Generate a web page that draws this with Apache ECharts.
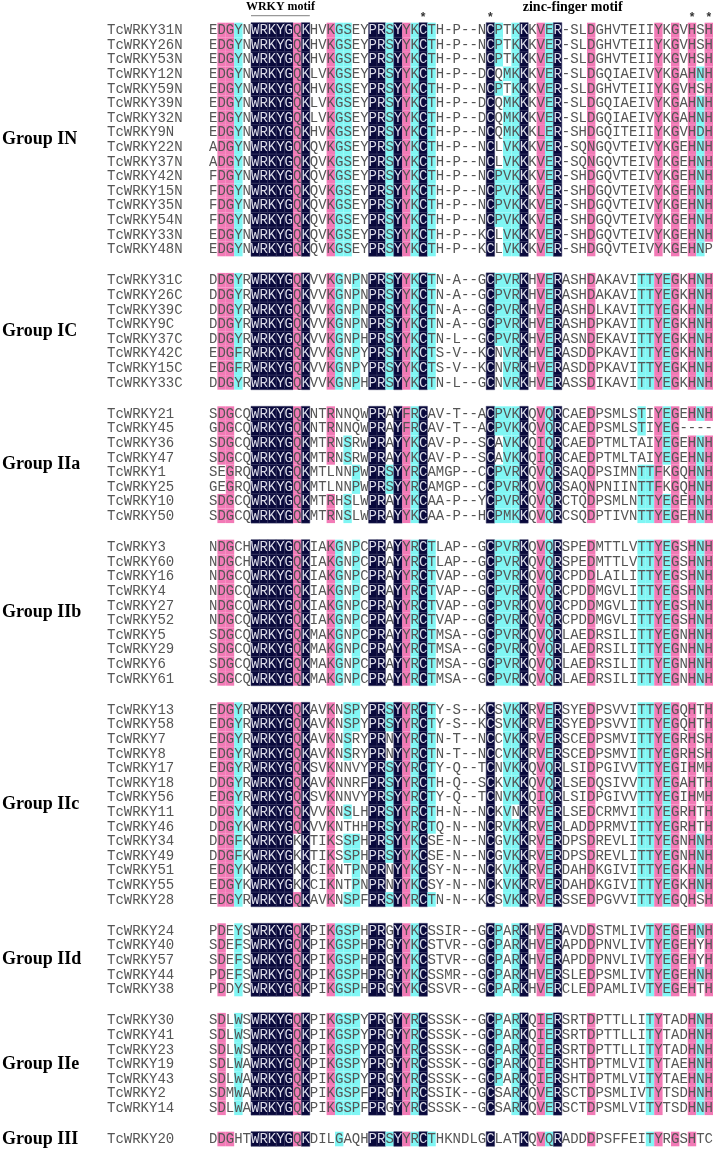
<!DOCTYPE html>
<html><head><meta charset="utf-8">
<script src="https://cdn.jsdelivr.net/npm/echarts@6/dist/echarts.min.js"></script>
<style>html,body{margin:0;padding:0;background:#fff}#c{width:716px;height:1149px}</style>
</head><body><div id="c"></div>
<script>
// ---------------- data ----------------
const groups = ['Group IN','Group IC','Group IIa','Group IIb','Group IIc','Group IId','Group IIe','Group III'];
const groupSizes = [16, 8, 8, 10, 14, 5, 7, 1];
const names = [
 'TcWRKY31N','TcWRKY26N','TcWRKY53N','TcWRKY12N','TcWRKY59N','TcWRKY39N','TcWRKY32N','TcWRKY9N',
 'TcWRKY22N','TcWRKY37N','TcWRKY42N','TcWRKY15N','TcWRKY35N','TcWRKY54N','TcWRKY33N','TcWRKY48N',
 'TcWRKY31C','TcWRKY26C','TcWRKY39C','TcWRKY9C','TcWRKY37C','TcWRKY42C','TcWRKY15C','TcWRKY33C',
 'TcWRKY21','TcWRKY45','TcWRKY36','TcWRKY47','TcWRKY1','TcWRKY25','TcWRKY10','TcWRKY50',
 'TcWRKY3','TcWRKY60','TcWRKY16','TcWRKY4','TcWRKY27','TcWRKY52','TcWRKY5','TcWRKY29','TcWRKY6','TcWRKY61',
 'TcWRKY13','TcWRKY58','TcWRKY7','TcWRKY8','TcWRKY17','TcWRKY18','TcWRKY56','TcWRKY11','TcWRKY46',
 'TcWRKY34','TcWRKY49','TcWRKY51','TcWRKY55','TcWRKY28',
 'TcWRKY24','TcWRKY40','TcWRKY57','TcWRKY44','TcWRKY38',
 'TcWRKY30','TcWRKY41','TcWRKY23','TcWRKY19','TcWRKY43','TcWRKY2','TcWRKY14',
 'TcWRKY20'
];
const sequences = [
 'EDGYNWRKYGQKHVKGSEYPRSYYKCTH-P--NCPTKKKVER-SLDGHVTEIIYKGVHSH',
 'EDGYNWRKYGQKHVKGSEYPRSYYKCTH-P--NCPTKKKVER-SLDGHVTEIIYKGVHSH',
 'EDGYNWRKYGQKHVKGSEYPRSYYKCTH-P--NCPTKKKVER-SLDGHVTEIIYKGVHSH',
 'EDGYNWRKYGQKLVKGSEYPRSYYKCTH-P--DCQMKKKVER-SLDGQIAEIVYKGAHNH',
 'EDGYNWRKYGQKHVKGSEYPRSYYKCTH-P--NCPTKKKVER-SLDGHVTEIIYKGVHSH',
 'EDGYNWRKYGQKLVKGSEYPRSYYKCTH-P--DCQMKKKVER-SLDGQIAEIVYKGAHNH',
 'EDGYNWRKYGQKLVKGSEYPRSYYKCTH-P--DCQMKKKVER-SLDGQIAEIVYKGAHNH',
 'EDGYNWRKYGQKHVKGSEYPRSYYKCTH-P--NCQMKKKLER-SHDGQITEIIYKGVHDH',
 'ADGYNWRKYGQKQVKGSEYPRSYYKCTH-P--NCLVKKKVER-SQNGQVTEIVYKGEHNH',
 'ADGYNWRKYGQKQVKGSEYPRSYYKCTH-P--NCLVKKKVER-SQNGQVTEIVYKGEHNH',
 'FDGYNWRKYGQKQVKGSEYPRSYYKCTH-P--NCPVKKKVER-SHDGQVTEIVYKGEHNH',
 'FDGYNWRKYGQKQVKGSEYPRSYYKCTH-P--NCPVKKKVER-SHDGQVTEIVYKGEHNH',
 'FDGYNWRKYGQKQVKGSEYPRSYYKCTH-P--NCPVKKKVER-SHDGQVTEIVYKGEHNH',
 'FDGYNWRKYGQKQVKGSEYPRSYYKCTH-P--NCPVKKKVER-SHDGQVTEIVYKGEHNH',
 'EDGYNWRKYGQKQVKGSEYPRSYYKCTH-P--KCLVKKKVER-SHDGQVTEIVYKGEHNH',
 'EDGYNWRKYGQKQVKGSEYPRSYYKCTH-P--KCLVKKKVER-SHDGQVTEIVYKGEHNP',
 'DDGYRWRKYGQKVVKGNPNPRSYYKCTN-A--GCPVRKHVERASHDAKAVITTYEGKHNH',
 'DDGYRWRKYGQKVVKGNPNPRSYYKCTN-A--GCPVRKHVERASHDAKAVITTYEGKHNH',
 'DDGYRWRKYGQKVVKGNPNPRSYYKCTN-A--GCPVRKHVERASHDLKAVITTYEGKHNH',
 'DDGYRWRKYGQKVVKGNPNPRSYYKCTN-A--GCPVRKHVERASHDPKAVITTYEGKHNH',
 'DDGYRWRKYGQKVVKGNPHPRSYYKCTN-L--GCPVRKHVERASNDEKAVITTYEGKHNH',
 'EDGFRWRKYGQKVVKGNPYPRSYYKCTS-V--KCNVRKHVERASDDPKAVITTYEGKHNH',
 'EDGFRWRKYGQKVVKGNPYPRSYYKCTS-V--KCNVRKHVERASDDPKAVITTYEGKHNH',
 'DDGYRWRKYGQKVVKGNPHPRSYYKCTN-L--GCNVRKHVERASSDIKAVITTYEGKHNH',
 'SDGCQWRKYGQKNTRNNQWPRAYFRCAV-T--ACPVKKQVQRCAEDPSMLSTIYEGEHNH',
 'GDGCQWRKYGQKNTRNNQWPRAYFRCAV-T--ACPVKKQVQRCAEDPSMLSTIYEG----',
 'SDGCQWRKYGQKMTRNSRWPRAYYKCAV-P--SCAVKKQIQRCAEDPTMLTAIYEGEHNH',
 'SDGCQWRKYGQKMTRNSRWPRAYYKCAV-P--SCAVKKQIQRCAEDPTMLTAIYEGEHNH',
 'SEGRQWRKYGQKMTLNNPWPRSYYRCAMGP--CCPVRKQVQRSAQDPSIMNTTFKGQHNH',
 'GEGRQWRKYGQKMTLNNPWPRSYYRCAMGP--CCPVRKQVQRSAQNPNIINTTFKGQHNH',
 'SDGCQWRKYGQKMTRHSLWPRAYYKCAA-P--YCPVRKQVQRCTQDPSMLNTTYEGEHNH',
 'SDGCQWRKYGQKMTRNSLWPRAYYKCAA-P--HCPMKKQVQRCSQDPTIVNTTYEGEHNH',
 'NDGCHWRKYGQKIAKGNPCPRAYYRCTLAP--GCPVRKQVQRSPEDMTTLVTTYEGSHNH',
 'NDGCHWRKYGQKIAKGNPCPRAYYRCTLAP--GCPVRKQVQRSPEDMTTLVTTYEGSHNH',
 'NDGCQWRKYGQKIAKGNPCPRAYYRCTVAP--GCPVRKQVQRCPDDLAILITTYEGSHNH',
 'NDGCQWRKYGQKIAKGNPCPRAYYRCTVAP--GCPVRKQVQRCPDDMGVLITTYEGSHNH',
 'NDGCQWRKYGQKIAKGNPCPRAYYRCTVAP--GCPVRKQVQRCPDDMGVLITTYEGSHNH',
 'NDGCQWRKYGQKIAKGNPCPRAYYRCTVAP--GCPVRKQVQRCPDDMGVLITTYEGSHNH',
 'SDGCQWRKYGQKMAKGNPCPRAYYRCTMSA--GCPVRKQVQRLAEDRSILITTYEGNHNH',
 'SDGCQWRKYGQKMAKGNPCPRAYYRCTMSA--GCPVRKQVQRLAEDRSILITTYEGNHNH',
 'SDGCQWRKYGQKMAKGNPCPRAYYRCTMSA--GCPVRKQVQRLAEDRSILITTYEGNHNH',
 'SDGCQWRKYGQKMAKGNPCPRAYYRCTMSA--GCPVRKQVQRLAEDRSILITTYEGNHNH',
 'EDGYRWRKYGQKAVKNSPYPRSYYRCTY-S--KCSVKKRVERSYEDPSVVITTYEGQHTH',
 'EDGYRWRKYGQKAVKNSPYPRSYYRCTY-S--KCSVKKRVERSYEDPSVVITTYEGQHTH',
 'EDGYRWRKYGQKAVKNSRYPRNYYRCTN-T--NCCVKKRVERSCEDPSMVITTYEGRHSH',
 'EDGYRWRKYGQKAVKNSRYPRNYYRCTN-T--NCCVKKRVERSCEDPSMVITTYEGRHSH',
 'EDGYRWRKYGQKSVKNNVYPRSYYRCTY-Q--TCNVKKQVQRLSIDPGIVVTTYEGIHMH',
 'DDGYRWRKYGQKAVKNNRFPRSYYRCTH-Q--SCKVKKQVQRLSEDQSIVVTTYEGAHTH',
 'EDGYRWRKYGQKSVKNNVYPRSYYRCTY-Q--TCNVKKQIQRLSIDPGIVVTTYEGIHMH',
 'DDGYKWRKYGQKVVKNSLHPRSYYRCTH-N--NCKVNKRVERLSEDCRMVITTYEGRHTH',
 'DDGYKWRKYGQKVVKNTHHPRSYYRCTQ-N--NCRVKKRVERLADDPRMVITTYEGRHTH',
 'DDGFKWRKYGKKTIKSSPHPRSYYKCSE-N--NCGVKKRVERDPSDREVLITTYEGNHNH',
 'DDGFKWRKYGKKTIKSSPHPRSYYKCSE-N--NCGVKKRVERDPSDREVLITTYEGNHNH',
 'EDGYKWRKYGKKCIKNTPNPRNYYKCSY-N--NCKVKKRVERDAHDKGIVITTYEGKHNH',
 'EDGYKWRKYGKKCIKNTPNPRNYYKCSY-N--NCKVKKRVERDAHDKGIVITTYEGKHNH',
 'EDGYRWRKYGQKAVKNSPFPRSYYRCTN-N--KCSVKKRVERSSEDPGVVITTYEGQHSH',
 'PDEYSWRKYGQKPIKGSPHPRGYYKCSSIR--GCPARKHVERAVDDSTMLIVTYEGEHNH',
 'SDEFSWRKYGQKPIKGSPHPRGYYKCSTVR--GCPARKHVERAPDDPNVLIVTYEGEHYH',
 'SDEFSWRKYGQKPIKGSPHPRGYYKCSTVR--GCPARKHVERAPDDPNVLIVTYEGEHYH',
 'PDEFSWRKYGQKPIKGSPHPRGYYKCSSMR--GCPARKHVERSLEDPSMLIVTYEGEHNH',
 'PDDYSWRKYGQKPIKGSPHPRGYYKCSSVR--GCPARKHVERCLEDPAMLIVTYEGEHTH',
 'SDLWSWRKYGQKPIKGSPYPRGYYRCSSSK--GCPARKQIERSRTDPTTLLITYTADHNH',
 'SDLWSWRKYGQKPIKGSPYPRGYYRCSSSK--GCPARKQIERSRTDPTTLLITYTADHNH',
 'SDLWSWRKYGQKPIKGSPYPRGYYRCSSSK--GCPARKQIERSRTDPTTLLITYTADHNH',
 'SDLWAWRKYGQKPIKGSPYPRGYYRCSSSK--GCPARKQIERSHTDPTMLVITYTAEHNH',
 'SDLWAWRKYGQKPIKGSPYPRGYYRCSSSK--GCPARKQIERSHTDPTMLVITYTAEHNH',
 'SDMWAWRKYGQKPIKGSPFPRGYYRCSSIK--GCSARKQVERSCTDPSMLIVTYTSDHNH',
 'SDLWAWRKYGQKPIKGSPFPRGYYRCSSSK--GCSARKQVERSCTDPSMLVITYTSDHNH',
 'DDGHTWRKYGQKDILGAQHPRSYYRCTHKNDLGCLATKQVQRADDDPSFFEITYRGSHTC'
];
// conservation level of each column: n = 100%, p = >=75%, c = >=50%, . = none
const columnLevels = '.ppc.nnnnnpn..pccc.nncnpcnc......ncccn.pcn...p.....ccpcp.pcp';
// residues treated as similar to the column consensus
const similarSets = ['KR', 'EQ', 'DN', 'FYW', 'ILVM'];
const motifs = [ {text: 'WRKY motif', from: 5, to: 12, line: true, size: 12}, {text: 'zinc-finger motif', from: 38.3, to: 48.3, line: false, size: 14} ];
const starColumns = [25, 33, 57, 59];

// ---------------- layout / style ----------------
const ROW_PX = 14.6, GAP_PX = 16.6, COL_PX = 8.4, LEFT = 209, TOP = 22.7;
const COLORS = { n: '#09093c', p: '#f27ab6', c: '#80f6f4' };
const FONT = '14px "Liberation Mono", "Courier New", monospace';
const NCOL = sequences[0].length;

const rows = [];
let idx = 0;
groupSizes.forEach((n, g) => {
  for (let k = 0; k < n; k++) { rows.push({ y: idx + g * GAP_PX / ROW_PX, name: names[idx], seq: sequences[idx] }); idx++; }
});
const maxY = rows[rows.length - 1].y;

const consensus = [];
for (let c = 0; c < NCOL; c++) {
  const cnt = {};
  sequences.forEach(s => { const ch = s[c]; if (ch && ch !== '-') cnt[ch] = (cnt[ch] || 0) + 1; });
  let best = null, bv = 0;
  Object.keys(cnt).forEach(k => { if (cnt[k] > bv) { bv = cnt[k]; best = k; } });
  consensus.push(best);
}
const isSimilar = (a, b) => a === b || similarSets.some(s => s.includes(a) && s.includes(b));

const cells = [];
rows.forEach(r => {
  for (let c = 0; c < NCOL; c++) {
    const ch = r.seq[c] || ' ';
    const lv = columnLevels[c];
    const level = (lv !== '.' && ch !== '-' && isSimilar(ch, consensus[c])) ? lv : '.';
    cells.push({ c, y: r.y, ch, level });
  }
});

const groupCenters = [];
let start = 0;
groupSizes.forEach((n, g) => { groupCenters.push((rows[start].y + rows[start + n - 1].y) / 2); start += n; });

const gridHeight = (maxY + 1) * ROW_PX;
const chart = echarts.init(document.getElementById('c'));
const common = { type: 'custom', clip: false, progressive: 0, progressiveThreshold: 1e9, animation: false };
chart.setOption({
  animation: false,
  grid: { left: LEFT, top: TOP, width: NCOL * COL_PX, height: gridHeight },
  xAxis: { type: 'value', min: 0, max: NCOL, show: false },
  yAxis: { type: 'value', min: -0.5, max: maxY + 0.5, inverse: true, show: false },
  series: [
    Object.assign({}, common, {
      data: cells.map(d => [d.c, d.y]),
      renderItem: (params, api) => {
        const d = cells[params.dataIndex];
        const tl = api.coord([d.c, d.y - 0.5]);
        const br = api.coord([d.c + 1, d.y + 0.5]);
        const ch = [];
        if (d.level !== '.') {
          ch.push({ type: 'rect', shape: { x: tl[0], y: tl[1], width: br[0] - tl[0], height: br[1] - tl[1] },
            style: { fill: COLORS[d.level], stroke: d.level === 'n' ? '#34345e' : null, lineWidth: 0.5 } });
        }
        ch.push({ type: 'text', style: { text: d.ch, x: (tl[0] + br[0]) / 2, y: (tl[1] + br[1]) / 2 + 0.5,
          textAlign: 'center', textVerticalAlign: 'middle', verticalAlign: 'middle', font: FONT,
          fill: d.level === 'n' ? '#dcdce8' : '#555555' } });
        return { type: 'group', children: ch };
      }
    }),
    Object.assign({}, common, {
      data: rows.map(r => [0, r.y]),
      renderItem: (params, api) => {
        const p = api.coord([0, rows[params.dataIndex].y]);
        return { type: 'text', style: { text: rows[params.dataIndex].name, x: p[0] - 102, y: p[1] + 0.5,
          textAlign: 'left', textVerticalAlign: 'middle', verticalAlign: 'middle', font: FONT, fill: '#555555' } };
      }
    }),
    Object.assign({}, common, {
      data: groups.map((g, i) => [0, groupCenters[i]]),
      renderItem: (params, api) => {
        const p = api.coord([0, groupCenters[params.dataIndex]]);
        return { type: 'text', style: { text: groups[params.dataIndex], x: 2, y: p[1],
          textAlign: 'left', textVerticalAlign: 'middle', verticalAlign: 'middle',
          font: 'bold 18px "Liberation Serif", "Times New Roman", serif', fill: '#000' } };
      }
    }),
    Object.assign({}, common, {
      data: motifs.map(m => [m.from, -1.6]),
      renderItem: (params, api) => {
        const m = motifs[params.dataIndex];
        const a = api.coord([m.from, -1.55]), b = api.coord([m.to, -1.55]);
        const l = api.coord([m.from, -0.99]);
        const ch = [{ type: 'text', style: { text: m.text, x: (a[0] + b[0]) / 2, y: a[1], textAlign: 'center',
          textVerticalAlign: 'middle', verticalAlign: 'middle', font: 'bold ' + m.size + 'px "Liberation Serif", serif', fill: '#000' } }];
        if (m.line) ch.push({ type: 'line', shape: { x1: a[0], y1: l[1], x2: b[0], y2: l[1] }, style: { stroke: '#999', lineWidth: 1.2 } });
        return { type: 'group', children: ch };
      }
    }),
    Object.assign({}, common, {
      data: starColumns.map(c => [c + 0.5, -0.85]),
      renderItem: (params, api) => {
        const p = api.coord([api.value(0), api.value(1)]);
        return { type: 'text', style: { text: '*', x: p[0], y: p[1], textAlign: 'center', textVerticalAlign: 'middle',
          verticalAlign: 'middle', font: 'bold 12px "Liberation Sans", sans-serif', fill: '#333' } };
      }
    })
  ]
});
</script></body></html>
